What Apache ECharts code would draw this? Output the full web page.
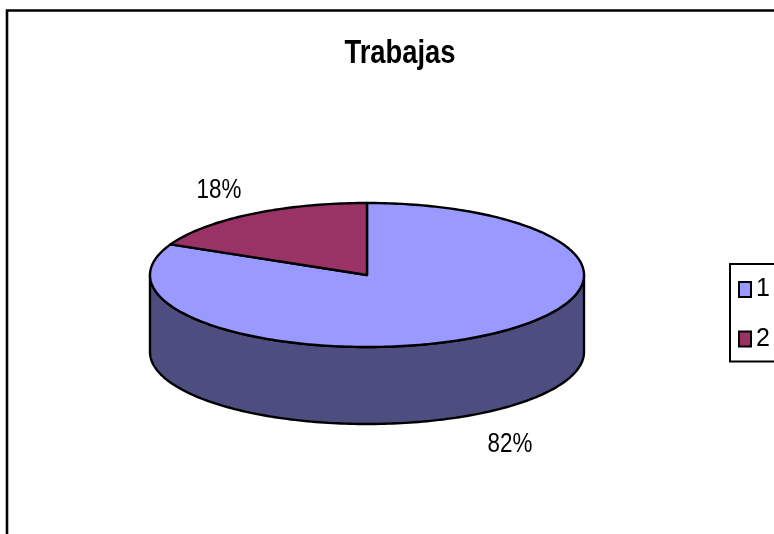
<!DOCTYPE html>
<html><head><meta charset="utf-8">
<style>html,body{margin:0;padding:0;background:#fff}#c{width:774px;height:534px}</style>
<script src="https://cdn.jsdelivr.net/npm/echarts@6/dist/echarts.min.js"></script>
</head><body><div id="c"></div>
<script>
const categories = ['1', '2'];
const values = [82, 18];
const topColors = ['#9999ff', '#993366'];
const sideColors = ['#4d4d80', '#4d1a33'];
const titleText = 'Trabajas';

const FONT = '"Liberation Sans", Arial, sans-serif';
const CX = 367, CY = 275, RX = 217, RY = 72, DEPTH = 77;
const total = values.reduce((a, b) => a + b, 0);
const pt = (t, dy) => [CX + RX * Math.sin(t), CY - RY * Math.cos(t) + (dy || 0)];

function arc(a, b, dy) {
  const pts = [], n = Math.max(2, Math.ceil(Math.abs(b - a) / 0.02));
  for (let i = 0; i <= n; i++) pts.push(pt(a + (b - a) * i / n, dy));
  return pts;
}

function sliceSeries(i) {
  const start = values.slice(0, i).reduce((a, b) => a + b, 0);
  return {
    type: 'custom',
    name: categories[i],
    coordinateSystem: 'none',
    itemStyle: { color: topColors[i], borderColor: '#000', borderWidth: 2 },
    silent: true,
    data: [[start, values[i]]],
    renderItem(params, api) {
      const a = api.value(0) / total * 2 * Math.PI;
      const b = a + api.value(1) / total * 2 * Math.PI;
      const children = [];
      const fa = Math.max(a, Math.PI / 2), fb = Math.min(b, 3 * Math.PI / 2);
      if (fb > fa) {
        const upper = arc(fa, fb, 0), lower = arc(fb, fa, DEPTH);
        children.push({
          type: 'polygon',
          shape: { points: upper.concat(lower) },
          style: { fill: sideColors[i], stroke: '#000', lineWidth: 2.4, lineJoin: 'round' }
        });
      }
      children.push({
        type: 'polygon',
        shape: { points: [[CX, CY]].concat(arc(a, b, 0)) },
        style: { fill: topColors[i], stroke: '#000', lineWidth: 2.4, lineJoin: 'round' }
      });
      return { type: 'group', children };
    },
    z: 2 + i
  };
}

function squeezed(text, x, y, size, weight) {
  return {
    type: 'text', x, y, scaleX: 0.83, originX: 0, z: 10, silent: true,
    style: { text, x: 0, y: 0, align: 'center', verticalAlign: 'middle',
      font: (weight ? weight + ' ' : '') + size + 'px ' + FONT, fill: '#000' }
  };
}

const chart = echarts.init(document.getElementById('c'), null, { renderer: 'canvas' });
chart.setOption({
  animation: false,
  backgroundColor: '#fff',
  legend: {
    data: categories, orient: 'vertical', left: 730, top: 264,
    icon: 'rect',
    itemWidth: 12, itemHeight: 15, itemGap: 24.5, padding: [13, 60, 10, 8],
    borderColor: '#000', borderWidth: 2,
    selectedMode: false,
    itemStyle: { borderColor: '#000', borderWidth: 2 },
    textStyle: { fontFamily: FONT, fontSize: 25, color: '#000', padding: [0, 0, 0, 0] }
  },
  graphic: [
    { type: 'rect', shape: { x: 7, y: 10.5, width: 800, height: 560 }, style: { fill: 'transparent', stroke: '#000', lineWidth: 2.6 }, silent: true, z: 0 },
    squeezed(titleText, 400, 54, 33, 'bold'),
    squeezed(values[1] + '%', 219, 191, 27),
    squeezed(values[0] + '%', 510, 445, 27)
  ],
  series: categories.map((c, i) => sliceSeries(i))
});
</script></body></html>
